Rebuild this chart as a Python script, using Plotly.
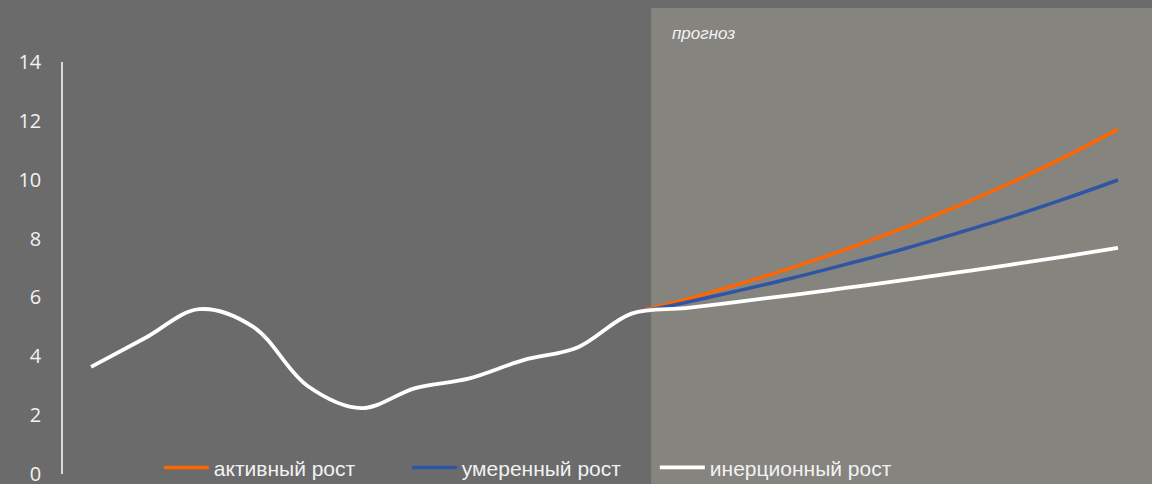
import plotly.graph_objects as go

# x positions (period index) and series values
hist_x = list(range(0, 11))
hist_y = [3.64, 4.62, 5.60, 5.00, 3.00, 2.24, 2.92, 3.25, 3.87, 4.30, 5.45]

fc_x = list(range(10, 20))
active = [5.45, 5.93, 6.46, 7.03, 7.66, 8.34, 9.08, 9.88, 10.76, 11.72]
moderate = [5.45, 5.83, 6.24, 6.67, 7.14, 7.63, 8.17, 8.73, 9.34, 9.99]
inertial = [5.45, 5.64, 5.86, 6.09, 6.33, 6.58, 6.84, 7.11, 7.39, 7.68]

y_ticks = [0, 2, 4, 6, 8, 10, 12, 14]
forecast_start = 10.36
x_range = [-0.52, 19.63]

white_x = hist_x + fc_x[1:]
white_y = hist_y + inertial[1:]

fig = go.Figure()
fig.add_trace(go.Scatter(x=fc_x, y=active, mode="lines", name="активный рост",
                         line=dict(color="#FF6600", width=3.5, shape="spline", smoothing=1)))
fig.add_trace(go.Scatter(x=fc_x, y=moderate, mode="lines", name="умеренный рост",
                         line=dict(color="#2F55A4", width=3.5, shape="spline", smoothing=1)))
fig.add_trace(go.Scatter(x=white_x, y=white_y, mode="lines", name="инерционный рост",
                         line=dict(color="#FFFFFF", width=3.8, shape="spline", smoothing=1)))

# forecast area
fig.add_shape(type="rect", xref="x", yref="paper", x0=forecast_start, x1=x_range[1] + 1,
              y0=-0.05, y1=1.131, fillcolor="#86847F", line=dict(width=0), layer="below")

fig.add_annotation(text="<i>прогноз</i>", xref="x", yref="paper", x=forecast_start + 0.36,
                   y=1.070, xanchor="left", yanchor="middle", showarrow=False,
                   font=dict(family="Liberation Sans, Arial", size=17, color="#F2F2F2"))

fig.update_layout(
    width=1152, height=484,
    paper_bgcolor="#6B6B6B", plot_bgcolor="rgba(0,0,0,0)",
    margin=dict(l=63, r=0, t=62, b=10, autoexpand=False),
    showlegend=True,
    legend=dict(orientation="h", x=0.088, y=0.015, xanchor="left", yanchor="middle",
                bgcolor="rgba(0,0,0,0)", font=dict(family="Liberation Sans, Arial", size=21, color="#F2F2F2"),
                entrywidth=188, entrywidthmode="pixels", itemwidth=45),
    xaxis=dict(range=x_range, showgrid=False, zeroline=False, showticklabels=False,
               showline=False, automargin=False),
    yaxis=dict(range=[0, 14], tickvals=y_ticks, showgrid=False, zeroline=False,
               showline=True, linecolor="#D9D9D9", linewidth=1.5, ticks="",
               ticklabelstandoff=16, ticklabeloverflow="allow", automargin=False,
               tickfont=dict(family="Open Sans, Carlito, Calibri", size=20, color="#F2F2F2")),
)

fig.write_html("out.html", config={"displayModeBar": False},
               post_script="document.body.style.margin='0';")
